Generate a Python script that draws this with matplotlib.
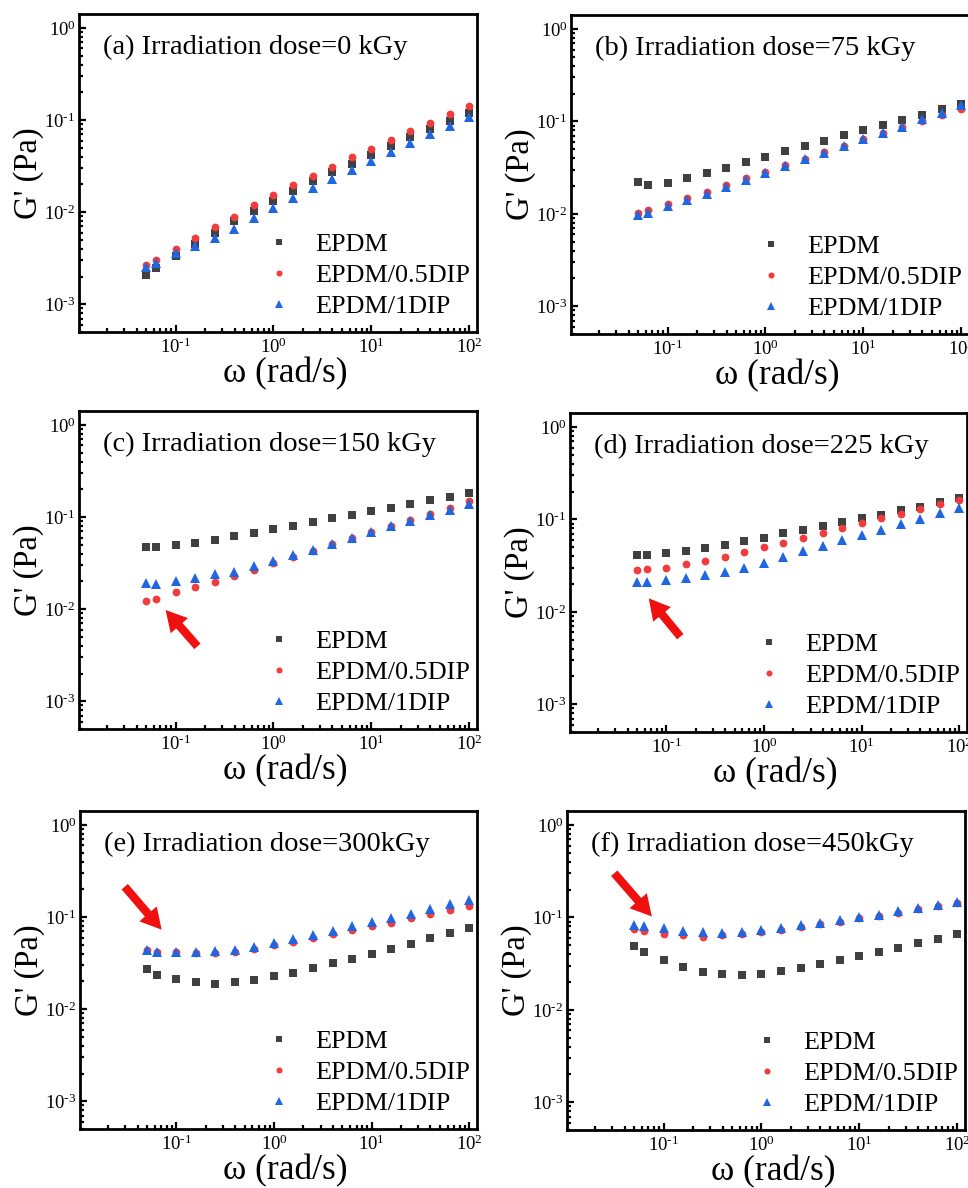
import matplotlib
matplotlib.use("Agg")
import matplotlib.pyplot as plt
import math
from matplotlib.ticker import LogLocator, NullFormatter, FuncFormatter

plt.rcParams['font.family'] = ['Liberation Serif', 'DejaVu Serif']
plt.rcParams['mathtext.fontset'] = 'custom'
plt.rcParams['mathtext.rm'] = 'Liberation Serif'
plt.rcParams['mathtext.it'] = 'Liberation Serif:italic'
plt.rcParams['mathtext.bf'] = 'Liberation Serif:bold'

# angular frequency (rad/s)
omega = [0.05, 0.063, 0.1, 0.158, 0.251, 0.398, 0.631, 1.0, 1.58, 2.51,
         3.98, 6.31, 10.0, 15.8, 25.1, 39.8, 63.1, 100.0]

series_labels = ["EPDM", "EPDM/0.5DIP", "EPDM/1DIP"]
panel_titles = ["(a) Irradiation dose=0 kGy", "(b) Irradiation dose=75 kGy",
                "(c) Irradiation dose=150 kGy", "(d) Irradiation dose=225 kGy",
                "(e) Irradiation dose=300kGy", "(f) Irradiation dose=450kGy"]

# (a) 0 kGy
a_epdm = [2.07e-3, 2.45e-3, 3.36e-3, 4.49e-3, 6.0e-3, 8.0e-3, 1.03e-2, 1.32e-2, 1.69e-2,
          2.17e-2, 2.72e-2, 3.37e-2, 4.22e-2, 5.19e-2, 6.5e-2, 8.0e-2, 9.8e-2, 0.119]
a_dip05 = [2.69e-3, 3.06e-3, 4.03e-3, 5.26e-3, 6.9e-3, 8.9e-3, 1.19e-2, 1.52e-2, 1.95e-2,
           2.46e-2, 3.13e-2, 3.94e-2, 4.9e-2, 6.1e-2, 7.7e-2, 9.4e-2, 0.117, 0.142]
a_dip1 = [2.51e-3, 2.84e-3, 3.59e-3, 4.31e-3, 5.26e-3, 6.6e-3, 8.65e-3, 1.12e-2, 1.43e-2,
          1.81e-2, 2.27e-2, 2.9e-2, 3.6e-2, 4.55e-2, 5.64e-2, 7.0e-2, 8.7e-2, 0.108]

# (b) 75 kGy
b_epdm = [2.19e-2, 2.05e-2, 2.17e-2, 2.42e-2, 2.79e-2, 3.13e-2, 3.64e-2, 4.15e-2, 4.78e-2,
          5.42e-2, 6.18e-2, 7.06e-2, 8.13e-2, 9.2e-2, 0.104, 0.118, 0.135, 0.155]
b_dip05 = [1.03e-2, 1.10e-2, 1.29e-2, 1.50e-2, 1.72e-2, 2.05e-2, 2.42e-2, 2.84e-2, 3.35e-2,
           3.95e-2, 4.63e-2, 5.46e-2, 6.44e-2, 7.48e-2, 8.75e-2, 0.100, 0.116, 0.135]
b_dip1 = [9.66e-3, 1.03e-2, 1.23e-2, 1.41e-2, 1.63e-2, 1.94e-2, 2.31e-2, 2.74e-2, 3.27e-2,
          3.89e-2, 4.55e-2, 5.42e-2, 6.4e-2, 7.48e-2, 8.75e-2, 0.105, 0.124, 0.149]

# (c) 150 kGy
c_epdm = [4.74e-2, 4.74e-2, 4.94e-2, 5.28e-2, 5.69e-2, 6.18e-2, 6.77e-2, 7.42e-2, 8.06e-2,
          8.83e-2, 9.75e-2, 0.106, 0.116, 0.127, 0.139, 0.153, 0.167, 0.183]
c_dip05 = [1.22e-2, 1.30e-2, 1.52e-2, 1.73e-2, 1.99e-2, 2.29e-2, 2.66e-2, 3.16e-2, 3.70e-2,
           4.33e-2, 5.11e-2, 5.99e-2, 6.95e-2, 8.06e-2, 9.36e-2, 0.109, 0.126, 0.149]
c_dip1 = [1.91e-2, 1.90e-2, 2.0e-2, 2.16e-2, 2.41e-2, 2.53e-2, 2.94e-2, 3.33e-2, 3.83e-2,
          4.44e-2, 5.15e-2, 5.93e-2, 6.84e-2, 7.93e-2, 9.13e-2, 0.105, 0.120, 0.139]

# (d) 225 kGy
d_epdm = [4.15e-2, 4.13e-2, 4.29e-2, 4.58e-2, 4.9e-2, 5.32e-2, 5.78e-2, 6.34e-2, 7.06e-2,
          7.73e-2, 8.47e-2, 9.35e-2, 0.103, 0.113, 0.125, 0.138, 0.154, 0.170]
d_dip05 = [2.83e-2, 2.88e-2, 3.0e-2, 3.26e-2, 3.54e-2, 3.94e-2, 4.43e-2, 4.98e-2, 5.6e-2,
           6.34e-2, 7.12e-2, 8.06e-2, 9.05e-2, 0.103, 0.115, 0.129, 0.147, 0.164]
d_dip1 = [2.12e-2, 2.08e-2, 2.19e-2, 2.32e-2, 2.50e-2, 2.67e-2, 2.97e-2, 3.37e-2, 3.91e-2,
          4.51e-2, 5.19e-2, 5.93e-2, 6.77e-2, 7.67e-2, 8.83e-2, 0.101, 0.116, 0.133]

# (e) 300 kGy
e_epdm = [2.72e-2, 2.36e-2, 2.12e-2, 1.99e-2, 1.90e-2, 1.95e-2, 2.07e-2, 2.27e-2, 2.50e-2,
          2.79e-2, 3.18e-2, 3.55e-2, 4.02e-2, 4.55e-2, 5.15e-2, 5.89e-2, 6.72e-2, 7.55e-2]
e_dip05 = [4.36e-2, 4.22e-2, 4.15e-2, 4.05e-2, 4.05e-2, 4.18e-2, 4.55e-2, 4.99e-2, 5.37e-2,
           5.93e-2, 6.55e-2, 7.24e-2, 8.0e-2, 8.69e-2, 9.68e-2, 0.107, 0.118, 0.132]
e_dip1 = [4.36e-2, 4.18e-2, 4.18e-2, 4.18e-2, 4.25e-2, 4.39e-2, 4.74e-2, 5.24e-2, 5.74e-2,
          6.4e-2, 7.12e-2, 8.0e-2, 8.75e-2, 9.84e-2, 0.109, 0.122, 0.138, 0.153]

# (f) 450 kGy
f_epdm = [4.94e-2, 4.19e-2, 3.43e-2, 2.90e-2, 2.59e-2, 2.42e-2, 2.36e-2, 2.44e-2, 2.61e-2,
          2.86e-2, 3.16e-2, 3.43e-2, 3.85e-2, 4.19e-2, 4.7e-2, 5.28e-2, 5.89e-2, 6.61e-2]
f_dip05 = [7.48e-2, 7.06e-2, 6.61e-2, 6.4e-2, 6.14e-2, 6.4e-2, 6.61e-2, 6.95e-2, 7.36e-2,
           7.87e-2, 8.47e-2, 8.91e-2, 9.75e-2, 0.104, 0.113, 0.122, 0.132, 0.143]
f_dip1 = [8.26e-2, 8.0e-2, 7.6e-2, 7.18e-2, 6.89e-2, 6.72e-2, 6.95e-2, 7.3e-2, 7.73e-2,
          8.26e-2, 8.75e-2, 9.28e-2, 0.100, 0.107, 0.116, 0.125, 0.136, 0.147]

panels = [(a_epdm, a_dip05, a_dip1), (b_epdm, b_dip05, b_dip1),
          (c_epdm, c_dip05, c_dip1), (d_epdm, d_dip05, d_dip1),
          (e_epdm, e_dip05, e_dip1), (f_epdm, f_dip05, f_dip1)]

# red arrows: (tail, tip) in data coordinates, None = no arrow
arrows = [None, None,
          ((0.167, 3.95e-3), (0.079, 9.8e-3)),
          ((0.139, 5.38e-3), (0.066, 1.40e-2)),
          ((0.0296, 0.214), (0.0706, 0.073)),
          ((0.0313, 0.301), (0.0758, 0.1025))]

colors = ['#404040', '#f03c3c', '#1f66e0']
markers = ['s', 'o', '^']
msizes = [5.4, 5.6, 7.0]


def pow10_label(v, pos):
    if v <= 0:
        return ''
    e = int(round(math.log10(v)))
    if e < 0:
        return r'$\mathdefault{10^{\text{-}%d}}$' % (-e)
    return r'$\mathdefault{10^{%d}}$' % e


W, H = 968, 1188
# axes boxes in pixels: left, top, right, bottom
boxes = [(79, 14, 477, 332), (571, 15, 969, 334),
         (79, 411, 477, 729), (570, 413, 967, 732),
         (80, 811, 477, 1129), (567, 811, 965, 1130)]

fig = plt.figure(figsize=(W / 100, H / 100), dpi=100)

for i, (box, data, title, arr) in enumerate(zip(boxes, panels, panel_titles, arrows)):
    l, t, r, b = box
    ax = fig.add_axes([l / W, 1 - b / H, (r - l) / W, (b - t) / H])
    for ys, lab, c, m, ms in zip(data, series_labels, colors, markers, msizes):
        ax.plot(omega, ys, linestyle='none', marker=m, color=c, markersize=ms,
                markeredgewidth=0, label=lab)
    ax.set_xscale('log')
    ax.set_yscale('log')
    ax.set_xlim(0.0103, 120)
    ax.set_ylim(5.0e-4, 1.42)
    ax.xaxis.set_major_locator(LogLocator(base=10, numticks=10))
    ax.xaxis.set_minor_locator(LogLocator(base=10, subs=range(2, 10), numticks=20))
    ax.yaxis.set_major_locator(LogLocator(base=10, numticks=10))
    ax.yaxis.set_minor_locator(LogLocator(base=10, subs=range(2, 10), numticks=20))
    ax.xaxis.set_major_formatter(FuncFormatter(pow10_label))
    ax.yaxis.set_major_formatter(FuncFormatter(pow10_label))
    ax.xaxis.set_minor_formatter(NullFormatter())
    ax.yaxis.set_minor_formatter(NullFormatter())
    ax.tick_params(which='both', direction='in', top=False, right=False,
                   width=1.6, labelsize=13.5)
    ax.tick_params(axis='y', which='major', pad=2.5)
    ax.tick_params(axis='x', which='major', pad=4)
    ax.tick_params(which='major', length=5)
    ax.tick_params(which='minor', length=3)
    for sp in ax.spines.values():
        sp.set_linewidth(2.0)
    ax.set_xlabel('ω (rad/s)', fontsize=25.5)
    ax.set_ylabel("G' (Pa)", fontsize=23.5)
    ax.xaxis.label.set_va('top')
    ax.xaxis.set_label_coords(0.5175, -0.078)
    ax.yaxis.set_label_coords(-0.088, 0.5)
    ax.text(0.06, 0.895, title, transform=ax.transAxes, fontsize=20.5,
            ha='left', va='center')
    ax.legend(loc='lower right', bbox_to_anchor=(1.022, -0.006), frameon=False,
              fontsize=18.8, markerscale=0.78, handletextpad=0.58,
              labelspacing=0.3, borderaxespad=0.2, handlelength=1.6)
    if arr is not None:
        (x0, y0), (x1, y1) = arr
        ax.annotate('', xy=(x1, y1), xytext=(x0, y0),
                    arrowprops=dict(arrowstyle='simple,head_width=1.1,head_length=1.0,tail_width=0.4',
                                    color='#f01010', lw=0, shrinkA=0, shrinkB=0,
                                    mutation_scale=15))

fig.savefig('out.png', dpi=100)
